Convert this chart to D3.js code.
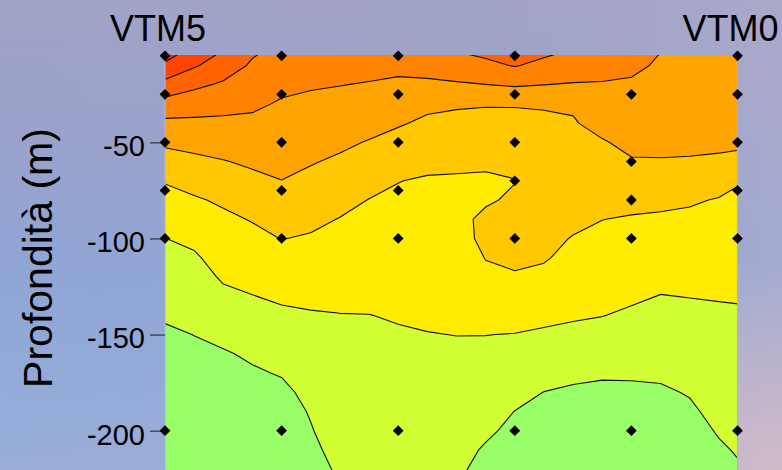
<!DOCTYPE html>
<html><head><meta charset="utf-8">
<script src="https://cdn.jsdelivr.net/npm/d3@7"></script>
<style>html,body{margin:0;padding:0;background:#9aa3cc;} svg{display:block}</style>
</head><body>
<svg id="chart" width="782" height="470"></svg>
<script>
// ---- data ----
const stationNames = ["VTM5", "VTM0"];
const stationNamePos = [0, 4.91];
const stationDist = [0, 1, 2, 3, 4, 4.91];
const sampleDepths = [
  [-5, -25, -50, -75, -100, -200],
  [-5, -25, -50, -75, -100, -200],
  [-5, -25, -50, -75, -100, -200],
  [-5, -25, -50, -70, -100, -200],
  [-25, -60, -80, -100, -200],
  [-5, -25, -50, -75, -100, -200]
];
const yTicks = [-50, -100, -150, -200];
const yTickLabels = ["-50", "-100", "-150", "-200"];
const levels = [1, 2, 3, 4, 5, 6, 7, 8];
const bandColors = ["#99ff66", "#d2ff33", "#ffec00", "#ffc800", "#ffa300", "#ff8200", "#ff6400", "#ff4600", "#ff2800"];
const gridStepX = 0.25;      // station units
const gridStepDepth = 10;    // metres, rows start at 0 m
// gridded field, one array per grid column (x = 0, 0.25, ... 5), rows every 10 m from 0 m
const fieldColumns = [
  [8.88, 7.81, 6.71, 5.62, 4.80, 4.16, 3.59, 3.06, 2.69, 2.34, 1.99, 1.77, 1.54, 1.32, 1.09, 0.88, 0.75, 0.65, 0.55, 0.50, 0.45, 0.40, 0.40, 0.40],
  [7.93, 7.11, 6.20, 5.45, 4.81, 4.29, 3.79, 3.33, 2.90, 2.54, 2.18, 1.89, 1.67, 1.45, 1.23, 1.01, 0.85, 0.72, 0.62, 0.55, 0.50, 0.45, 0.42, 0.40],
  [7.13, 6.50, 5.87, 5.31, 4.81, 4.38, 3.96, 3.55, 3.13, 2.83, 2.59, 2.35, 2.10, 1.83, 1.52, 1.22, 0.92, 0.80, 0.70, 0.62, 0.56, 0.50, 0.46, 0.43],
  [6.23, 5.87, 5.51, 5.16, 4.81, 4.48, 4.14, 3.79, 3.42, 3.05, 2.77, 2.51, 2.24, 1.98, 1.70, 1.42, 1.13, 0.90, 0.78, 0.68, 0.60, 0.54, 0.50, 0.46],
  [5.84, 5.52, 5.20, 4.91, 4.68, 4.45, 4.22, 3.99, 3.67, 3.34, 3.02, 2.72, 2.43, 2.13, 1.85, 1.59, 1.32, 1.06, 0.80, 0.72, 0.66, 0.60, 0.56, 0.52],
  [5.59, 5.34, 5.08, 4.82, 4.57, 4.32, 4.06, 3.78, 3.49, 3.19, 2.92, 2.66, 2.41, 2.16, 1.94, 1.76, 1.59, 1.42, 1.24, 1.05, 0.96, 0.90, 0.85, 0.80],
  [5.57, 5.29, 5.02, 4.73, 4.45, 4.16, 3.87, 3.56, 3.26, 2.97, 2.77, 2.57, 2.37, 2.17, 1.98, 1.87, 1.77, 1.66, 1.55, 1.44, 1.33, 1.15, 1.06, 0.99],
  [5.54, 5.25, 4.95, 4.61, 4.28, 3.95, 3.62, 3.29, 2.98, 2.82, 2.65, 2.49, 2.33, 2.16, 1.99, 1.88, 1.77, 1.66, 1.55, 1.45, 1.35, 1.25, 1.15, 1.06],
  [5.56, 5.21, 4.85, 4.46, 4.08, 3.72, 3.37, 3.02, 2.87, 2.74, 2.60, 2.47, 2.33, 2.20, 2.06, 1.93, 1.83, 1.73, 1.63, 1.53, 1.43, 1.33, 1.22, 1.12],
  [5.74, 5.31, 4.85, 4.17, 3.86, 3.54, 3.23, 2.91, 2.84, 2.72, 2.59, 2.47, 2.35, 2.23, 2.11, 1.98, 1.88, 1.78, 1.68, 1.58, 1.48, 1.36, 1.24, 1.12],
  [6.17, 5.54, 4.90, 4.09, 3.79, 3.49, 3.19, 2.89, 2.84, 2.72, 2.60, 2.48, 2.36, 2.25, 2.13, 2.01, 1.88, 1.75, 1.62, 1.49, 1.35, 1.22, 1.09, 0.96],
  [6.45, 5.75, 4.99, 4.05, 3.76, 3.47, 3.17, 2.85, 2.88, 3.21, 3.25, 3.03, 2.80, 2.52, 2.26, 2.01, 1.82, 1.64, 1.46, 1.28, 1.11, 0.93, 0.85, 0.80],
  [6.60, 6.06, 5.11, 4.05, 3.79, 3.52, 3.25, 2.97, 3.15, 3.20, 3.22, 3.21, 2.90, 2.59, 2.28, 1.98, 1.73, 1.49, 1.24, 0.99, 0.85, 0.75, 0.70, 0.65],
  [6.43, 5.72, 5.01, 4.04, 3.92, 3.79, 3.66, 3.54, 3.42, 3.29, 3.16, 3.08, 2.80, 2.50, 2.19, 1.89, 1.60, 1.30, 0.99, 0.85, 0.75, 0.68, 0.62, 0.58],
  [6.08, 5.51, 4.94, 4.10, 3.94, 3.78, 3.62, 3.46, 3.30, 3.14, 2.97, 2.75, 2.53, 2.31, 2.09, 1.81, 1.50, 1.18, 0.88, 0.78, 0.70, 0.64, 0.60, 0.56],
  [5.81, 5.36, 4.93, 4.59, 4.25, 3.94, 3.70, 3.47, 3.24, 3.01, 2.81, 2.61, 2.41, 2.22, 2.02, 1.71, 1.39, 1.07, 0.88, 0.78, 0.70, 0.64, 0.60, 0.56],
  [5.57, 5.19, 4.88, 4.65, 4.42, 4.19, 3.94, 3.59, 3.24, 2.93, 2.73, 2.52, 2.32, 2.12, 1.88, 1.61, 1.35, 1.08, 0.88, 0.78, 0.70, 0.64, 0.60, 0.56],
  [5.06, 4.88, 4.70, 4.52, 4.34, 4.16, 3.96, 3.57, 3.19, 2.88, 2.66, 2.43, 2.20, 1.98, 1.77, 1.55, 1.34, 1.12, 0.90, 0.80, 0.72, 0.66, 0.62, 0.58],
  [4.72, 4.62, 4.52, 4.42, 4.32, 4.21, 3.92, 3.49, 3.09, 2.84, 2.63, 2.43, 2.22, 2.02, 1.82, 1.63, 1.43, 1.24, 1.05, 0.88, 0.78, 0.70, 0.65, 0.60],
  [4.70, 4.60, 4.50, 4.40, 4.31, 4.22, 3.83, 3.33, 2.95, 2.77, 2.58, 2.40, 2.22, 2.04, 1.90, 1.76, 1.63, 1.49, 1.35, 1.22, 1.05, 0.92, 0.85, 0.80],
  [4.70, 4.60, 4.50, 4.40, 4.30, 4.19, 3.61, 2.99, 2.84, 2.68, 2.53, 2.37, 2.22, 2.06, 1.93, 1.82, 1.70, 1.58, 1.47, 1.35, 1.24, 1.12, 1.005, 0.90]
];

// ---- layout ----
const W = 782, H = 470;
const FONT = "'Liberation Sans', Arial, sans-serif";
const svg = d3.select("#chart");
const x = d3.scaleLinear().domain([0, 4.91]).range([165, 737.5]);
const y = d3.scaleLinear().domain([0, -200]).range([46.2, 430.7]);
const plotTopDepth = -4.6, plotBottomDepth = -235;

// background sky
const defs = svg.append("defs");
const lg = defs.append("linearGradient").attr("id", "sky").attr("x1", 0).attr("y1", 0).attr("x2", 0).attr("y2", 1);
[["0%", "#a1a2c6"], ["30%", "#9aa2cc"], ["60%", "#8fa6d6"], ["100%", "#98aed9"]].forEach(s => lg.append("stop").attr("offset", s[0]).attr("stop-color", s[1]));
const hg = defs.append("linearGradient").attr("id", "skyH").attr("x1", 0).attr("y1", 0).attr("x2", 1).attr("y2", 0);
[["0%", "#a9aacb", 0], ["70%", "#aeabcc", 0.15], ["100%", "#b2aecd", 0.55]].forEach(s => hg.append("stop").attr("offset", s[0]).attr("stop-color", s[1]).attr("stop-opacity", s[2]));
const rg = defs.append("radialGradient").attr("id", "pink").attr("cx", 1).attr("cy", 1).attr("r", 0.45);
[["0%", "#d6bcc6", 0.9], ["100%", "#d6bcc6", 0]].forEach(s => rg.append("stop").attr("offset", s[0]).attr("stop-color", s[1]).attr("stop-opacity", s[2]));
svg.append("rect").attr("width", W).attr("height", H).attr("fill", "url(#sky)");
svg.append("rect").attr("width", W).attr("height", H).attr("fill", "url(#skyH)");
svg.append("rect").attr("width", W).attr("height", H).attr("fill", "url(#pink)");

// clip
defs.append("clipPath").attr("id", "plotClip").append("rect")
  .attr("x", x(0)).attr("y", y(plotTopDepth))
  .attr("width", x(4.91) - x(0)).attr("height", y(plotBottomDepth) - y(plotTopDepth));

// contours
const nx = fieldColumns.length, ny = fieldColumns[0].length;
const values = new Array(nx * ny);
for (let i = 0; i < nx; i++) for (let j = 0; j < ny; j++) values[j * nx + i] = fieldColumns[i][j];
const contours = d3.contours().size([nx, ny]).thresholds(levels)(values);
const proj = d3.geoTransform({
  point(px, py) { this.stream.point(x((px - 0.5) * gridStepX), y(-(py - 0.5) * gridStepDepth)); }
});
const path = d3.geoPath(proj);

const plot = svg.append("g").attr("clip-path", "url(#plotClip)");
plot.append("rect").attr("x", x(0)).attr("y", y(plotTopDepth))
  .attr("width", x(4.91) - x(0)).attr("height", y(plotBottomDepth) - y(plotTopDepth))
  .attr("fill", bandColors[0]);
plot.selectAll("path.band").data(contours).join("path").attr("class", "band")
  .attr("d", path).attr("fill", (d, i) => bandColors[i + 1]);
plot.selectAll("path.iso").data(contours).join("path").attr("class", "iso")
  .attr("d", path).attr("fill", "none").attr("stroke", "#111").attr("stroke-width", 1.1)
  .attr("stroke-linejoin", "round");

// plot edges
[0, 4.91].forEach(v => svg.append("line").attr("x1", x(v)).attr("x2", x(v))
  .attr("y1", y(plotTopDepth)).attr("y2", H).attr("stroke", "#a9b2de").attr("stroke-width", 1.2));

// axis
const axis = d3.axisLeft(y).tickValues(yTicks).tickSize(15).tickSizeOuter(0).tickPadding(5)
  .tickFormat((d, i) => yTickLabels[i]);
const ga = svg.append("g").attr("transform", `translate(${x(0)},0)`).call(axis);
ga.select(".domain").remove();
ga.selectAll(".tick line").attr("stroke", "#4a4a55").attr("stroke-width", 1.5);
ga.selectAll(".tick text").attr("font-family", FONT).attr("font-size", 29).attr("fill", "#000").attr("dy", "0.46em");

// sample points
const pts = [];
stationDist.forEach((d, i) => sampleDepths[i].forEach(z => pts.push([d, z])));
svg.selectAll("path.pt").data(pts).join("path").attr("class", "pt")
  .attr("d", d3.symbol(d3.symbolSquare, 58))
  .attr("transform", d => `translate(${x(d[0])},${y(d[1])}) rotate(45)`)
  .attr("fill", "#000");

// station labels
svg.selectAll("text.st").data(stationNames).join("text").attr("class", "st")
  .attr("x", (d, i) => x(stationNamePos[i]) - 7).attr("y", 41)
  .attr("text-anchor", "middle").attr("font-family", FONT).attr("font-size", 36).attr("fill", "#000")
  .text(d => d);

// y label
svg.append("text").attr("transform", "translate(52,258) rotate(-90)")
  .attr("text-anchor", "middle").attr("font-family", FONT).attr("font-size", 41).attr("fill", "#000")
  .text("Profondità (m)");
</script>
</body></html>
